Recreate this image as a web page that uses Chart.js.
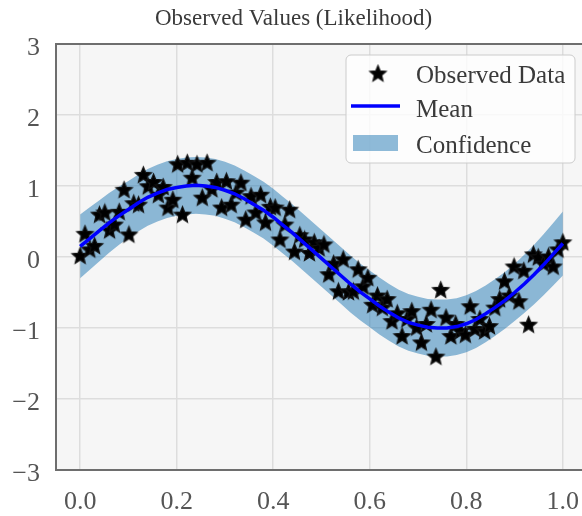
<!DOCTYPE html>
<html>
<head>
<meta charset="utf-8">
<script src="https://cdn.jsdelivr.net/npm/chart.js@4/dist/chart.umd.min.js"></script>
<style>
  html, body { margin: 0; padding: 0; background: #ffffff; overflow: hidden; }
  #wrap { width: 582px; height: 516px; overflow: hidden; }
  canvas { display: block; }
</style>
</head>
<body>
<div id="wrap"><canvas id="gpChart" width="600" height="516"></canvas></div>
<script>
// observed training points
const obsX = [
  0.000,0.010,0.020,0.030,0.040,0.051,0.061,0.071,0.081,0.091,
  0.101,0.111,0.121,0.131,0.141,0.152,0.162,0.172,0.182,0.192,
  0.202,0.212,0.222,0.232,0.242,0.253,0.263,0.273,0.283,0.293,
  0.303,0.313,0.323,0.333,0.343,0.354,0.364,0.374,0.384,0.394,
  0.404,0.414,0.424,0.434,0.444,0.455,0.465,0.475,0.485,0.495,
  0.505,0.515,0.525,0.535,0.545,0.556,0.566,0.576,0.586,0.596,
  0.606,0.616,0.626,0.636,0.646,0.657,0.667,0.677,0.687,0.697,
  0.707,0.717,0.727,0.737,0.747,0.758,0.768,0.778,0.788,0.798,
  0.808,0.818,0.828,0.838,0.848,0.859,0.869,0.879,0.889,0.899,
  0.909,0.919,0.929,0.939,0.949,0.960,0.970,0.980,0.990,1.000
];
const obsY = [
  0.01,0.32,0.10,0.15,0.59,0.62,0.37,0.45,0.63,0.94,
  0.31,0.75,0.73,1.15,0.99,1.05,0.87,0.98,0.69,0.80,
  1.30,0.59,1.32,1.11,1.30,0.83,1.32,0.95,1.05,0.69,
  1.06,0.73,0.90,1.04,0.52,0.85,0.62,0.87,0.48,0.70,
  0.69,0.24,0.45,0.66,0.07,0.30,0.24,0.05,0.20,0.12,
  0.17,-0.25,-0.10,-0.49,-0.04,-0.50,-0.49,-0.18,-0.42,-0.30,
  -0.68,-0.55,-0.72,-0.60,-0.91,-0.80,-1.12,-0.88,-0.77,-1.00,
  -1.21,-0.95,-0.75,-1.41,-0.47,-0.86,-1.12,-0.95,-1.05,-1.10,
  -0.70,-1.02,-0.88,-1.05,-0.98,-0.72,-0.60,-0.35,-0.55,-0.14,
  -0.63,-0.20,-0.96,0.03,-0.01,-0.10,0.00,-0.14,0.10,0.20
];

// predictive mean and confidence region
const testX = [
  0.00,0.02,0.04,0.06,0.08,0.10,0.12,0.14,0.16,0.18,
  0.20,0.22,0.24,0.26,0.28,0.30,0.32,0.34,0.36,0.38,
  0.40,0.42,0.44,0.46,0.48,0.50,0.52,0.54,0.56,0.58,
  0.60,0.62,0.64,0.66,0.68,0.70,0.72,0.74,0.76,0.78,
  0.80,0.82,0.84,0.86,0.88,0.90,0.92,0.94,0.96,0.98,1.00
];
const meanY = [
  0.15,0.26,0.37,0.48,0.58,0.67,0.76,0.84,0.90,0.95,
  0.98,1.00,1.01,1.00,0.98,0.94,0.89,0.82,0.74,0.66,
  0.56,0.45,0.34,0.22,0.10,-0.02,-0.14,-0.26,-0.38,-0.49,
  -0.59,-0.69,-0.78,-0.86,-0.92,-0.96,-0.99,-1.00,-1.00,-0.98,
  -0.94,-0.88,-0.80,-0.71,-0.61,-0.50,-0.38,-0.25,-0.11,0.04,0.19
];
const upperY = [
  0.60,0.70,0.80,0.90,0.99,1.07,1.16,1.24,1.30,1.35,
  1.38,1.40,1.41,1.40,1.38,1.34,1.29,1.22,1.14,1.06,
  0.96,0.85,0.74,0.62,0.50,0.38,0.26,0.14,0.02,-0.09,
  -0.19,-0.29,-0.38,-0.46,-0.52,-0.56,-0.59,-0.60,-0.60,-0.58,
  -0.54,-0.48,-0.40,-0.31,-0.21,-0.10,0.03,0.17,0.32,0.48,0.64
];
const lowerY = [
  -0.30,-0.18,-0.06,0.06,0.17,0.27,0.36,0.44,0.50,0.55,
  0.58,0.60,0.61,0.60,0.58,0.54,0.49,0.42,0.34,0.26,
  0.16,0.05,-0.06,-0.18,-0.30,-0.42,-0.54,-0.66,-0.78,-0.89,
  -0.99,-1.09,-1.18,-1.26,-1.32,-1.36,-1.39,-1.40,-1.40,-1.38,
  -1.34,-1.28,-1.20,-1.11,-1.01,-0.90,-0.79,-0.67,-0.54,-0.40,-0.26
];

const xTicks = [0, 0.2, 0.4, 0.6, 0.8, 1.0];
const yTicks = [-3, -2, -1, 0, 1, 2, 3];
const legendLabels = ['Observed Data', 'Mean', 'Confidence'];

const bandColor = 'rgba(31,119,180,0.5)';
const serif = "'Liberation Serif', 'DejaVu Serif', serif";

// filled star marker like matplotlib '*'
function makeStar(r) {
  const c = document.createElement('canvas');
  const s = Math.ceil(r * 2 + 4);
  c.width = s; c.height = s;
  const g = c.getContext('2d');
  g.translate(s / 2, s / 2);
  g.beginPath();
  for (let k = 0; k < 10; k++) {
    const rad = k % 2 === 0 ? r : r * 0.45;
    const a = -Math.PI / 2 + k * Math.PI / 5;
    g.lineTo(rad * Math.cos(a), rad * Math.sin(a));
  }
  g.closePath();
  g.fillStyle = '#000';
  g.fill();
  g.lineWidth = 1.2;
  g.strokeStyle = '#111';
  g.stroke();
  return c;
}
const star = makeStar(8.5);

const toPts = (xs, ys) => xs.map((x, i) => ({x: x, y: ys[i]}));

// plot area background + frame
const frame = {
  id: 'frame',
  beforeDraw(chart) {
    const a = chart.chartArea, ctx = chart.ctx;
    ctx.save();
    ctx.fillStyle = '#f6f6f6';
    ctx.fillRect(a.left, a.top, a.right - a.left, a.bottom - a.top);
    ctx.restore();
  },
  afterDatasetsDraw(chart) {
    const a = chart.chartArea, ctx = chart.ctx;
    ctx.save();
    ctx.strokeStyle = '#6e6e6e';
    ctx.lineWidth = 2;
    ctx.strokeRect(a.left, a.top, a.right - a.left, a.bottom - a.top);
    ctx.restore();
  }
};

// matplotlib style legend box in the upper right
const mplLegend = {
  id: 'mplLegend',
  afterDraw(chart) {
    const ctx = chart.ctx;
    const bx = 346, by = 55, bw = 229, bh = 108;
    ctx.save();
    ctx.beginPath();
    ctx.roundRect(bx, by, bw, bh, 5);
    ctx.fillStyle = 'rgba(255,255,255,0.8)';
    ctx.fill();
    ctx.strokeStyle = '#cccccc';
    ctx.lineWidth = 1;
    ctx.stroke();

    ctx.drawImage(star, 378 - star.width / 2, 74 - star.height / 2);

    ctx.strokeStyle = '#0000ff';
    ctx.lineWidth = 3.5;
    ctx.beginPath();
    ctx.moveTo(351, 106);
    ctx.lineTo(400, 106);
    ctx.stroke();

    ctx.fillStyle = bandColor;
    ctx.fillRect(353, 135, 45, 16);

    ctx.fillStyle = '#3a3a3a';
    ctx.font = '25px ' + serif;
    ctx.textBaseline = 'middle';
    ctx.textAlign = 'left';
    ctx.fillText(legendLabels[0], 416, 76);
    ctx.fillText(legendLabels[1], 416, 110);
    ctx.fillText(legendLabels[2], 416, 146);
    ctx.restore();
  }
};

const ctx = document.getElementById('gpChart').getContext('2d');
new Chart(ctx, {
  type: 'line',
  data: {
    datasets: [
      {
        label: 'lower',
        data: toPts(testX, lowerY),
        borderWidth: 0,
        pointRadius: 0,
        fill: false,
        order: 3
      },
      {
        label: legendLabels[2],
        data: toPts(testX, upperY),
        borderWidth: 0,
        pointRadius: 0,
        backgroundColor: bandColor,
        fill: '-1',
        order: 3
      },
      {
        label: legendLabels[0],
        data: toPts(obsX, obsY),
        showLine: false,
        pointStyle: star,
        pointRadius: 8,
        order: 2
      },
      {
        label: legendLabels[1],
        data: toPts(testX, meanY),
        borderColor: '#0000ff',
        borderWidth: 3.5,
        pointRadius: 0,
        fill: false,
        order: 1
      }
    ]
  },
  options: {
    responsive: false,
    animation: false,
    layout: { padding: { left: 0, right: 13, top: 0, bottom: 0 } },
    plugins: {
      legend: { display: false },
      tooltip: { enabled: false },
      title: {
        display: true,
        text: 'Observed Values (Likelihood)',
        color: '#3a3a3a',
        font: { family: serif, size: 23, weight: 'normal', lineHeight: 1.2 },
        padding: { top: 5, bottom: 11.4 }
      }
    },
    scales: {
      x: {
        type: 'linear',
        min: -0.05,
        max: 1.05,
        afterBuildTicks: s => { s.ticks = xTicks.map(v => ({value: v})); },
        afterFit: s => { s.height = 46; },
        border: { display: false },
        grid: { color: '#dddddd', lineWidth: 1.5, drawTicks: false },
        ticks: {
          padding: 17,
          color: '#555555',
          font: { family: serif, size: 26 },
          callback: v => v.toFixed(1)
        }
      },
      y: {
        min: -3,
        max: 3,
        afterBuildTicks: s => { s.ticks = yTicks.map(v => ({value: v})); },
        afterFit: s => { s.width = 56; },
        border: { display: false },
        grid: { color: '#dddddd', lineWidth: 1.5, drawTicks: false },
        ticks: {
          padding: 16,
          labelOffset: 4,
          color: '#555555',
          font: { family: serif, size: 26 },
          callback: v => (v < 0 ? '\u2212' + Math.abs(v) : String(v))
        }
      }
    }
  },
  plugins: [frame, mplLegend]
});
</script>
</body>
</html>
